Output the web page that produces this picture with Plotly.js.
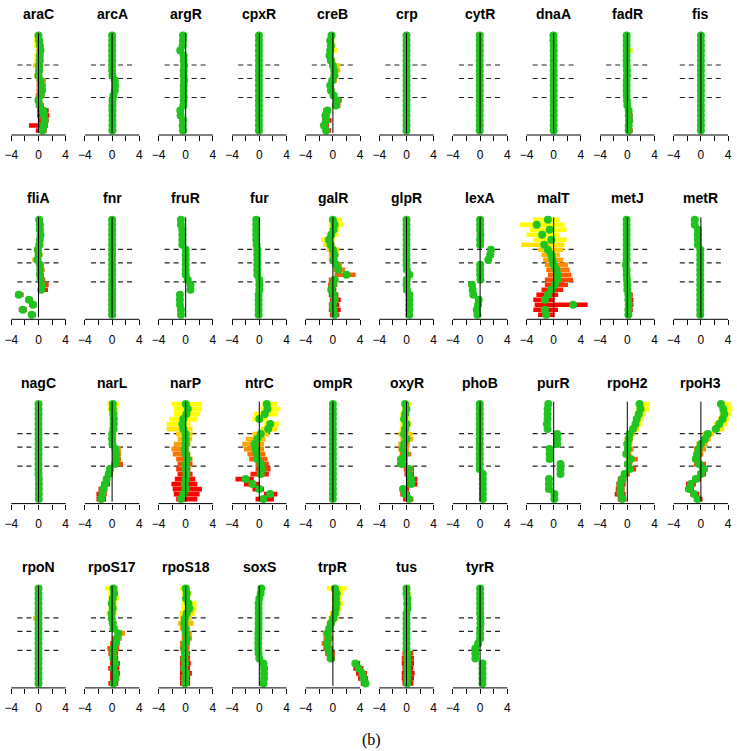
<!DOCTYPE html>
<html>
<head>
<meta charset="utf-8">
<script src="https://cdn.plot.ly/plotly-3.0.1.min.js"></script>
<style>
  html, body { margin: 0; padding: 0; background: #ffffff; }
  #chart { width: 737px; height: 751px; }
</style>
</head>
<body>
<div id="chart"></div>
<script>
//#region data
const regulators = [
  "araC", "arcA", "argR", "cpxR", "creB", "crp", "cytR", "dnaA", "fadR", "fis",
  "fliA", "fnr", "fruR", "fur", "galR", "glpR", "lexA", "malT", "metJ", "metR",
  "nagC", "narL", "narP", "ntrC", "ompR", "oxyR", "phoB", "purR", "rpoH2", "rpoH3",
  "rpoN", "rpoS17", "rpoS18", "soxS", "trpR", "tus", "tyrR"
];

// vertical positions of the 20 samples in each panel (top to bottom)
const yPos = [2.5, 7.5, 12.5, 17.5, 22.5, 27.5, 32.5, 37.5, 42.5, 47.5,
              52.5, 57.5, 62.5, 67.5, 72.5, 77.5, 82.5, 87.5, 92.5, 97.5];
const dashLevels = [32, 45.5, 64.5];
const tickVals = [-4, -2, 0, 2, 4];
const tickText = ["\u22124", "", "0", "", "4"];

// green point estimates, one row per regulator
const means = [
  [0.0, 0.1, 0.2, 0.3, 0.2, 0.2, 0.1, 0.1, 0.0, 0.3, 0.4, 0.5, 0.3, 0.0, 0.2, 0.7, 0.8, 0.9, 0.8, 0.6],          // araC
  [0, 0, 0, 0, 0, 0, 0, 0, 0.05, 0.4, 0.45, 0.4, 0.2, 0.05, 0.05, 0.05, 0.05, 0.05, 0.05, 0.05],                  // arcA
  [-0.4, -0.4, -0.45, -0.8, -0.3, -0.3, -0.25, -0.3, -0.3, -0.25, -0.3, -0.3, -0.3, -0.3, -0.35, -0.8, -0.75, -0.4, -0.45, -0.4], // argR
  [-0.05, -0.05, -0.05, -0.05, -0.05, -0.05, -0.05, -0.05, -0.05, -0.05, -0.05, -0.05, -0.05, -0.05, -0.05, -0.05, -0.05, -0.05, -0.05, -0.05], // cpxR
  [-0.2, -0.4, -0.3, -0.4, -0.5, -0.3, 0.0, 0.2, 0.2, -0.1, -0.4, -0.3, 0.1, 0.6, 0.45, -0.8, -1.1, -1.0, -1.3, -1.0], // creB
  [0, 0, 0, 0, 0, 0, 0, 0, 0, 0, 0, 0, 0, 0, 0, 0, 0, 0, 0, 0],                                                   // crp
  [-0.05, -0.05, -0.05, -0.05, -0.05, -0.05, -0.05, -0.05, -0.05, -0.05, -0.05, -0.05, -0.05, -0.05, -0.05, -0.05, -0.05, -0.05, -0.05, -0.05], // cytR
  [-0.05, -0.05, 0, 0, 0, 0, 0, 0, 0, 0, 0, 0, 0, 0, 0, 0, 0, 0, 0, 0],                                           // dnaA
  [-0.1, -0.1, -0.1, -0.1, -0.1, -0.1, -0.1, -0.05, -0.05, -0.1, -0.1, -0.1, -0.1, -0.05, 0.0, 0.2, 0.2, 0.25, 0.2, 0.2], // fadR
  [0, 0, 0, 0, 0, 0, 0, 0, 0, 0, 0, 0, 0, 0, 0, 0, 0, 0, 0, 0],                                                   // fis
  [0.1, 0.2, 0.2, 0.3, 0.2, 0.15, -0.1, 0.0, -0.15, 0.2, 0.25, 0.2, 0.3, 0.5, 0.4, -2.9, -1.4, -0.8, -2.3, -1.0], // fliA
  [0, 0, 0, 0, 0, 0, 0, 0, 0, 0, 0, 0, 0, 0, 0, 0, 0, 0, 0, 0],                                                   // fnr
  [-0.7, -0.7, -0.5, -0.5, -0.5, -0.5, 0.0, 0.0, 0.0, 0.0, 0.0, 0.0, 0.3, 0.7, 0.7, -0.85, -0.85, -0.85, -0.7, -0.7], // fruR
  [-0.45, -0.45, -0.45, -0.45, -0.45, -0.4, -0.3, -0.3, -0.3, -0.3, -0.3, -0.3, 0.0, 0.0, 0.0, -0.1, -0.1, -0.1, -0.1, -0.1], // fur
  [0.0, 0.25, 0.1, -0.25, -0.6, -0.35, 0.0, 0.25, 0.1, 0.5, 0.8, 2.0, 0.25, 0.0, -0.25, 0.1, 0.25, 0.0, 0.1, 0.25], // galR
  [0, 0, 0, 0, 0, 0, 0, 0, 0, 0, 0.05, 0.4, 0.05, 0, 0.05, 0.4, 0.4, 0.4, 0.4, 0.4],                             // glpR
  [0, 0, 0, 0.05, 0, 0, 1.6, 1.5, 1.2, 0, 0, 0, 0.05, -1.2, -1.1, -1.0, -0.2, -0.3, -0.5, -0.4],                 // lexA
  [-0.85, -2.5, -0.6, -1.7, -0.35, -1.4, -0.85, -0.35, -0.2, 0.0, 0.4, 0.6, 0.5, 0.15, -0.35, -0.85, -1.3, 2.85, -1.3, -1.1], // malT
  [-0.1, -0.1, -0.1, -0.1, -0.1, -0.1, -0.1, -0.1, -0.1, -0.2, -0.1, -0.1, -0.05, 0.0, 0.0, 0.15, 0.15, 0.2, 0.15, 0.15], // metJ
  [-0.9, -0.9, -0.45, -0.45, -0.45, -0.45, -0.1, -0.1, -0.1, -0.1, -0.1, -0.1, -0.1, -0.1, -0.1, -0.1, -0.1, -0.1, -0.1, -0.1], // metR
  [0, 0, 0, 0, 0, 0, 0, 0, 0, 0, 0, 0, 0, 0, 0, 0.05, 0.05, 0.05, 0.05, 0.05],                                    // nagC
  [0.1, 0.1, 0.2, 0.25, 0.25, 0.2, 0.0, 0.0, 0.05, 0.5, 0.6, 0.6, 0.45, -0.3, -0.5, -0.8, -1.0, -1.3, -1.45, -1.6], // narL
  [0.0, 0.3, 0.1, -0.35, -0.5, -0.35, 0.0, 0.0, 0.0, -0.15, 0.0, 0.2, 0.0, 0.0, 0.1, 0.0, -0.15, 0.0, -0.35, -0.7], // narP
  [1.1, 1.2, 0.8, 0.0, 1.6, 1.3, 0.2, -0.3, -0.7, -0.55, -0.4, -0.3, 0.2, 0.45, 0.2, -2.0, -1.0, 0.0, 1.6, 0.6],   // ntrC
  [0, 0, 0, 0, 0, 0, 0, 0, 0, 0, 0, 0, 0, 0, 0, 0, 0, 0, 0, 0],                                                   // ompR
  [-0.2, 0.0, -0.2, -0.35, 0.0, -0.2, -0.35, 0.0, -0.35, -0.5, -0.2, -0.7, -0.7, 0.35, 0.35, 0.7, 0.7, -0.5, -0.2, 0.35], // oxyR
  [-0.05, -0.05, -0.05, -0.05, -0.05, -0.05, -0.05, -0.05, -0.05, -0.05, -0.05, -0.05, -0.05, -0.05, 0.4, 0.4, 0.4, 0.4, 0.4, 0.4], // phoB
  [-0.8, -0.9, -0.9, -0.9, -1.0, -0.9, 0.5, 0.5, 0.5, -0.6, -0.6, -0.6, 1.0, 1.0, 1.0, -0.7, -0.7, -0.7, 0.1, 0.1], // purR
  [1.8, 1.95, 1.7, 1.4, 1.2, 0.85, 0.35, 0.2, 0.0, 0.1, -0.15, 0.5, 0.1, 0.35, -0.4, -0.75, -1.0, -1.0, -1.0, -0.75], // rpoH2
  [2.95, 3.3, 3.45, 3.2, 2.7, 2.2, 1.0, 0.6, 0.0, -0.35, -0.5, -0.75, -0.25, 0.4, 0.0, -0.75, -1.5, -1.7, -1.0, -0.5], // rpoH3
  [0, 0, 0, 0, 0, 0, 0, 0, 0, 0, 0, 0, 0, 0, 0, 0, 0, 0, 0, 0],                                                   // rpoN
  [0.2, 0.3, 0.1, -0.05, 0.1, -0.05, -0.05, 0.1, 0.2, 0.9, 0.7, 0.45, 0.2, 0.1, 0.2, 0.45, 0.2, 0.45, 0.45, 0.2], // rpoS17
  [0.0, 0.15, 0.05, 0.4, 0.55, 0.15, -0.1, -0.2, -0.1, 0.05, 0.15, -0.1, -0.2, -0.1, -0.2, -0.1, -0.2, 0.05, -0.1, -0.1], // rpoS18
  [0.3, 0.2, 0.0, -0.1, -0.1, -0.1, -0.1, -0.1, -0.1, -0.15, -0.15, -0.15, -0.15, -0.1, 0.0, 0.6, 0.7, 0.7, 0.7, 0.6], // soxS
  [0.3, 0.55, 0.45, 0.55, 0.45, 0.3, 0.05, -0.3, -0.5, -0.75, -0.65, -0.9, -0.65, -0.4, -0.3, 3.3, 3.8, 4.3, 4.5, 4.8], // trpR
  [0, 0, 0.1, 0.1, 0.15, 0, 0, 0, 0, 0, 0, 0, 0, 0.1, 0.1, 0.15, 0.1, 0.15, 0.1, 0.1],                          // tus
  [0, 0, 0, 0, 0, 0, 0.05, 0.05, 0, 0, 0, -0.3, -0.7, -0.7, -0.7, 0.35, 0.35, 0.35, 0.35, 0.35]                  // tyrR
];

// left and right ends of the coloured intervals (null = interval hidden under the points)
const barLows = [
  [-0.6, -0.7, -0.7, -0.5, -0.6, -0.6, -0.8, -0.5, -0.6, -0.3, -0.3, -0.3, -0.4, -0.5, -0.4, -0.2, -0.2, -0.1, -1.4, -0.4], // araC
  null, null, null,
  [-0.6, -0.7, -0.6, -0.6, -0.8, -0.6, -0.3, -0.3, -0.3, -0.6, -0.7, -0.6, -0.3, 0.1, -0.05, -1.4, -1.6, -1.6, -1.8, -1.4], // creB
  null, null, null,
  [-0.4, -0.4, -0.4, -0.4, -0.4, -0.4, -0.4, -0.4, -0.4, -0.4, -0.4, -0.4, -0.4, -0.4, -0.3, -0.2, -0.2, -0.2, -0.2, -0.2], // fadR
  null,
  [-0.3, -0.2, -0.2, -0.1, -0.2, -0.5, -0.7, -0.5, -0.9, -0.2, -0.1, -0.2, 0.0, 0.2, 0.1, -3.4, -1.9, -1.4, -2.9, -1.5], // fliA
  [-0.3, -0.3, -0.3, -0.3, -0.3, -0.3, -0.3, -0.3, -0.3, -0.3, -0.3, -0.3, -0.3, -0.5, -0.5, -0.5, -0.5, -0.5, -0.5, -0.5], // fnr
  null, null,
  [-0.6, -0.6, -0.6, -0.7, -1.75, -1.4, -0.9, -0.6, -0.6, 0.0, 0.1, 0.25, -0.6, -0.7, -0.7, -0.6, -0.45, -0.6, -0.6, -0.45], // galR
  null, null,
  [-3.0, -5.0, -3.5, -4.0, -3.0, -4.75, -2.3, -1.8, -1.55, -1.3, -1.1, -0.85, -1.3, -1.3, -1.8, -2.55, -3.0, -2.8, -3.0, -2.3], // malT
  [-0.4, -0.4, -0.4, -0.4, -0.4, -0.4, -0.4, -0.4, -0.4, -0.7, -0.4, -0.4, -0.35, -0.3, -0.3, -0.2, -0.2, -0.2, -0.2, -0.2], // metJ
  [-1.3, -1.2, -0.8, -0.7, -0.7, -0.7, -0.4, -0.4, -0.4, -0.4, -0.4, -0.4, -0.4, -0.4, -0.4, -0.4, -0.4, -0.4, -0.4, -0.4], // metR
  null,
  [-0.7, -0.6, -0.45, -0.45, -0.45, -0.45, -0.45, -0.45, -0.4, 0.0, 0.0, 0.0, 0.0, -0.8, -0.95, -1.3, -1.6, -2.0, -2.3, -2.3], // narL
  [-2.1, -1.75, -1.75, -2.45, -2.8, -2.8, -1.4, -1.2, -1.75, -2.1, -1.9, -1.4, -1.2, -1.4, -1.2, -1.6, -2.1, -1.9, -1.75, -1.4], // narP
  [0.45, 0.2, -0.8, -1.0, 0.7, 0.2, -1.0, -2.0, -2.5, -2.25, -1.75, -1.5, -0.55, -0.55, -1.3, -3.5, -2.25, -1.0, 0.7, -0.55], // ntrC
  null,
  [-0.7, -0.7, -0.9, -1.0, -0.9, -1.0, -1.2, -0.9, -1.2, -1.2, -1.0, -1.4, -1.4, -0.4, -0.3, 0.0, 0.0, -1.0, -0.9, -0.5], // oxyR
  [-0.3, -0.3, -0.3, -0.3, -0.3, -0.3, -0.3, -0.3, -0.3, -0.3, -0.3, -0.3, -0.3, -0.3, 0.0, 0.0, 0.0, 0.0, 0.0, 0.0], // phoB
  null,
  [1.3, 1.3, 1.1, 0.85, 0.75, 0.35, -0.15, -0.4, -0.55, -0.4, -0.65, -0.15, -0.4, -0.15, -0.9, -1.4, -1.6, -1.7, -1.85, -1.4], // rpoH2
  [2.45, 2.7, 2.7, 2.45, 1.95, 1.6, 0.25, 0.0, -0.65, -1.0, -1.15, -1.25, -1.0, -0.25, -0.5, -1.25, -2.2, -2.3, -1.6, -1.0], // rpoH3
  [-0.3, -0.3, -0.3, -0.3, -0.3, -0.5, -0.8, -0.3, -0.3, -0.3, -0.3, -0.3, -0.3, -0.3, -0.3, -0.3, -0.3, -0.3, -0.3, -0.3], // rpoN
  [-1.05, -0.55, -0.55, -0.55, -0.55, -0.8, -0.55, -0.3, -0.3, 0.45, -0.05, -0.3, -0.7, -0.55, -0.3, -0.3, -0.55, -0.3, -0.3, -0.55], // rpoS17
  [-0.85, -0.6, -0.6, -0.6, -0.6, -0.85, -0.85, -1.1, -0.85, -0.6, -0.6, -0.85, -0.85, -0.6, -0.85, -0.85, -0.85, -0.85, -0.85, -0.85], // rpoS18
  null,
  [-0.9, -0.2, -0.2, -0.2, -0.2, -0.45, -0.65, -0.9, -1.15, -1.5, -1.4, -1.65, -1.4, -1.15, -0.9, 2.8, 3.0, 3.4, 3.7, 4.1], // trpR
  [-0.3, -0.3, -0.3, -0.3, -0.3, -0.3, -0.3, -0.3, -0.3, -0.3, -0.3, -0.3, -0.3, -0.6, -0.7, -0.7, -0.6, -0.7, -0.7, -0.6], // tus
  null
];

const barHighs = [
  [0.5, 0.5, 0.7, 0.8, 0.7, 0.6, 0.6, 0.6, 0.5, 1.1, 1.1, 1.1, 0.9, 0.5, 0.8, 1.5, 1.6, 1.5, 1.4, 1.2],        // araC
  null, null, null,
  [0.2, 0.2, 0.4, 0.6, 0.1, 0.3, 1.1, 1.1, 0.8, 0.6, 0.1, 0.2, 0.6, 1.3, 1.1, -0.3, -0.5, -0.2, -0.6, -0.3],    // creB
  null, null, null,
  [0.2, 0.2, 0.3, 0.8, 0.2, 0.2, 0.2, 0.2, 0.2, 0.2, 0.2, 0.2, 0.2, 0.3, 0.3, 0.7, 0.8, 0.8, 0.7, 0.8],        // fadR
  null,
  [0.5, 0.6, 0.6, 0.8, 0.7, 0.6, 0.5, 0.6, 0.4, 0.8, 0.9, 0.8, 1.0, 1.5, 1.4, -2.2, -0.8, -0.3, -1.7, -0.4],    // fliA
  [0.3, 0.3, 0.3, 0.3, 0.3, 0.3, 0.3, 0.3, 0.3, 0.3, 0.3, 0.3, 0.3, 0.5, 0.5, 0.5, 0.5, 0.5, 0.5, 0.5],        // fnr
  null, null,
  [1.35, 1.5, 0.95, 0.8, 0.25, 0.25, 0.95, 0.8, 0.65, 1.35, 1.8, 3.35, 0.8, 0.65, 0.5, 0.8, 1.15, 0.95, 1.15, 0.95], // galR
  null, null,
  [0.9, 1.6, 1.9, 0.9, 1.9, 1.6, 1.4, 0.9, 1.4, 2.1, 2.35, 2.6, 2.85, 2.1, 1.4, 0.65, 0.15, 5.0, 0.65, 0.15],  // malT
  [0.25, 0.25, 0.25, 0.25, 0.25, 0.25, 0.25, 0.25, 0.25, 0.25, 0.25, 0.25, 0.25, 0.25, 0.25, 0.8, 0.9, 0.9, 0.8, 0.7], // metJ
  [-0.4, -0.5, -0.1, -0.1, -0.1, -0.1, 0.2, 0.2, 0.2, 0.2, 0.2, 0.2, 0.2, 0.2, 0.2, 0.2, 0.2, 0.2, 0.2, 0.2], // metR
  null,
  [1.1, 0.9, 0.8, 0.8, 0.8, 0.8, 0.6, 0.6, 0.6, 1.3, 1.3, 1.3, 1.6, 0.1, 0.1, -0.3, -0.3, -0.7, -0.8, -0.9],   // narL
  [2.4, 2.4, 2.05, 1.7, 0.7, 1.0, 1.0, 0.9, 0.7, 0.45, 0.7, 1.0, 1.0, 0.7, 1.0, 1.4, 1.7, 2.4, 2.05, 1.7],     // narP
  [2.65, 3.1, 2.65, 1.2, 2.9, 2.65, 1.4, 0.9, 0.7, 0.7, 0.9, 1.2, 1.4, 1.65, 1.4, -0.8, 0.0, 0.7, 2.65, 2.15], // ntrC
  null,
  [0.7, 0.5, 0.4, 0.5, 0.7, 0.35, 0.9, 1.0, 0.5, 0.35, 0.7, 0.2, 0.2, 1.1, 1.1, 1.6, 1.6, 0.35, 0.5, 1.0],     // oxyR
  [0.25, 0.25, 0.25, 0.25, 0.25, 0.25, 0.25, 0.25, 0.25, 0.25, 0.25, 0.25, 0.25, 0.25, 0.8, 0.8, 0.8, 0.8, 0.8, 0.8], // phoB
  null,
  [3.3, 3.2, 2.7, 2.3, 2.2, 1.8, 1.1, 0.85, 0.75, 0.95, 0.6, 1.55, 0.75, 1.3, 0.35, -0.15, -0.25, -0.4, -0.25, -0.15], // rpoH2
  [4.4, 4.65, 4.4, 4.15, 3.9, 3.45, 1.95, 1.45, 1.0, 0.75, 0.35, 0.0, 0.75, 1.0, 0.75, 0.0, -0.75, -1.0, -0.25, 0.25], // rpoH3
  [0.3, 0.3, 0.3, 0.3, 0.3, 0.3, 0.3, 0.3, 0.3, 0.3, 0.3, 0.3, 0.3, 0.3, 0.3, 0.3, 0.3, 0.3, 0.3, 0.3],       // rpoN
  [0.9, 0.9, 1.05, 0.65, 0.65, 0.65, 0.45, 0.65, 0.9, 1.9, 1.4, 1.15, 1.05, 0.9, 0.9, 1.15, 1.05, 1.15, 1.05, 0.9], // rpoS17
  [0.65, 0.9, 0.65, 1.6, 1.6, 1.35, 0.9, 1.15, 0.65, 0.9, 0.9, 0.65, 0.55, 0.65, 0.65, 0.75, 0.65, 0.9, 0.65, 0.65], // rpoS18
  null,
  [2.0, 1.5, 1.3, 1.5, 1.3, 1.05, 0.8, 0.3, 0.05, -0.2, 0.05, -0.2, 0.05, 0.3, 0.3, 4.0, 4.5, 5.0, 5.2, 5.3],   // trpR
  [0.3, 0.6, 0.7, 0.6, 0.5, 0.3, 0.3, 0.3, 0.3, 0.3, 0.3, 0.3, 0.3, 1.0, 1.1, 1.1, 1.0, 1.2, 1.1, 1.0],        // tus
  null
];
//#endregion

//#region geometry
const W = 737, H = 751;
const PX_PER_UNIT = 6.8;
const XMAX = 5.25;
const GREEN = "#1fc41f";

function heatColor(i, n) {
    // yellow at the top of a panel, red at the bottom
    const t = i / (n - 1);
    const g = Math.round(255 * Math.min(1, Math.max(0, (0.8 - t) / 0.6)));
    return `rgb(255,${g},0)`;
}
//#endregion

//#region build
function renderPanels() {
    const traces = [];
    const shapes = [];
    const annotations = [];
    const layout = {
        width: W, height: H,
        margin: { l: 0, r: 0, t: 0, b: 0 },
        paper_bgcolor: "#ffffff", plot_bgcolor: "rgba(0,0,0,0)",
        showlegend: false, hovermode: false, barmode: "overlay",
        font: { family: "Liberation Sans, Arial, sans-serif", color: "#000000" }
    };

    regulators.forEach((name, k) => {
        const row = Math.floor(k / 10), col = k % 10;
        const n = k + 1;
        const xRef = n === 1 ? "x" : "x" + n;
        const yRef = n === 1 ? "y" : "y" + n;
        const zeroPx = 38.5 + 73.6 * col;
        const halfPx = XMAX * PX_PER_UNIT;
        const axisPx = 135 + 184.3 * row;

        layout[n === 1 ? "xaxis" : "xaxis" + n] = {
            domain: [(zeroPx - halfPx) / W, (zeroPx + halfPx) / W],
            range: [-XMAX, XMAX], anchor: yRef, fixedrange: true,
            tickmode: "array", tickvals: tickVals, ticktext: tickText,
            ticks: "outside", ticklen: 5, tickwidth: 1, tickcolor: "#000000",
            ticklabelstandoff: 4,
            showgrid: false, zeroline: false, showline: false,
            tickfont: { family: "Liberation Sans, Arial, sans-serif", size: 12, color: "#000000" }
        };
        layout[n === 1 ? "yaxis" : "yaxis" + n] = {
            domain: [(H - axisPx) / H, (H - axisPx + 104) / H],
            range: [102, -2], anchor: xRef, visible: false, fixedrange: true
        };

        const lo = barLows[k], hi = barHighs[k];
        if (lo && hi) {
            traces.push({
                type: "bar", orientation: "h", xaxis: xRef, yaxis: yRef,
                y: yPos, base: lo, x: hi.map((h, i) => h - lo[i]), width: 4.6,
                marker: { color: yPos.map((_, i) => heatColor(i, yPos.length)), line: { width: 0 } }
            });
        }
        traces.push({
            type: "scatter", mode: "markers", xaxis: xRef, yaxis: yRef,
            x: means[k], y: yPos, cliponaxis: false,
            marker: { size: 8, color: GREEN, line: { width: 0 } }
        });

        dashLevels.forEach(level => {
            shapes.push({
                type: "line", xref: xRef, yref: yRef, x0: -3.1, x1: 3.0, y0: level, y1: level,
                layer: "below", line: { color: "#222222", width: 1.2, dash: "5px,4px" }
            });
        });
        shapes.push({
            type: "line", xref: xRef, yref: yRef, x0: 0, x1: 0, y0: 0, y1: 100,
            layer: "above", line: { color: "#000000", width: 1 }
        });
        shapes.push({
            type: "line", xref: xRef, yref: yRef + " domain", x0: -4, x1: 4, y0: 0, y1: 0,
            line: { color: "#000000", width: 1 }
        });

        annotations.push({
            text: "<b>" + name + "</b>", xref: xRef, yref: "paper",
            x: 0, y: (H - (axisPx - 121)) / H,
            showarrow: false, xanchor: "center", yanchor: "middle",
            font: { family: "Liberation Sans, Arial, sans-serif", size: 14, color: "#000000" }
        });
    });

    annotations.push({
        text: "(b)", xref: "paper", yref: "paper", x: 371 / W, y: (H - 740) / H,
        showarrow: false, xanchor: "center", yanchor: "middle",
        font: { family: "Liberation Serif, Times New Roman, serif", size: 16, color: "#000000" }
    });

    layout.shapes = shapes;
    layout.annotations = annotations;
    Plotly.newPlot("chart", traces, layout, { staticPlot: true, displayModeBar: false });
}

renderPanels();
//#endregion
</script>
</body>
</html>
